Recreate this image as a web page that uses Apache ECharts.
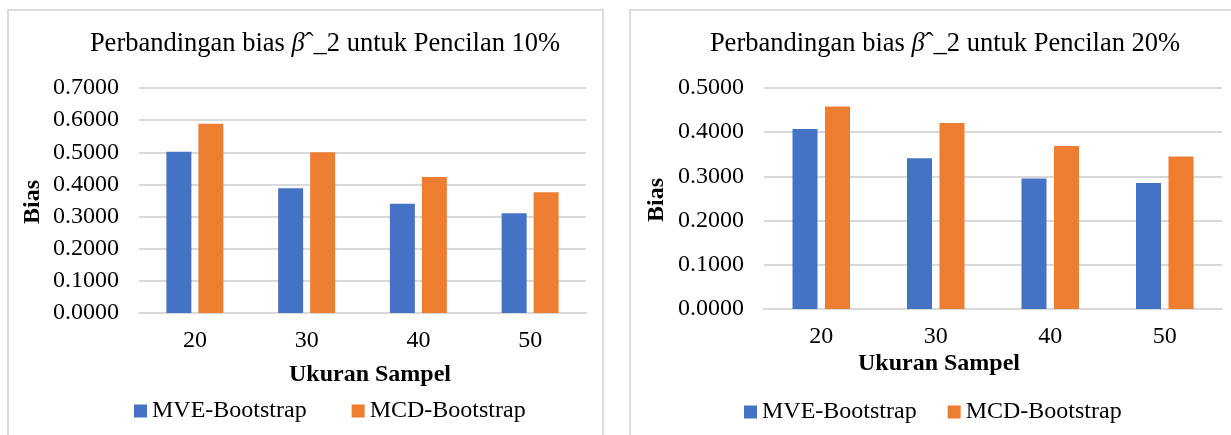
<!DOCTYPE html>
<html>
<head>
<meta charset="utf-8">
<style>
  html, body { margin: 0; padding: 0; background: #fff; }
  #chart { width: 1231px; height: 435px; }
</style>
<script src="https://cdn.jsdelivr.net/npm/echarts@6/dist/echarts.min.js"></script>
</head>
<body>
<div id="chart"></div>
<script>
// Sample sizes on the category axis
const categories = ['20', '30', '40', '50'];

// Bias of beta-hat_2, 10% outliers
const mve10 = [0.502, 0.388, 0.340, 0.310];
const mcd10 = [0.589, 0.500, 0.423, 0.376];

// Bias of beta-hat_2, 20% outliers
const mve20 = [0.407, 0.341, 0.295, 0.285];
const mcd20 = [0.458, 0.421, 0.369, 0.345];

const seriesNames = ['MVE-Bootstrap', 'MCD-Bootstrap'];
const titles = ['Pencilan 10%', 'Pencilan 20%'];
const yMax = [0.7, 0.5];

const FONT = '"Liberation Serif", "Times New Roman", serif';
const BLUE = '#4472C4';
const ORANGE = '#ED7D31';
const GRID_LINE = '#d9d9d9';

const chart = echarts.init(document.getElementById('chart'), null, { renderer: 'canvas' });

function titleOf(i, cx) {
  return {
    text: '{n|Perbandingan bias }{b|β}{n|ˆ_2 untuk ' + titles[i] + '}',
    left: cx,
    top: 26,
    textAlign: 'center',
    textStyle: {
      fontWeight: 'normal',
      rich: {
        n: { fontFamily: FONT, fontSize: 26.5, fontWeight: 'normal', color: '#000' },
        b: { fontFamily: FONT, fontSize: 26.5, fontWeight: 'normal', fontStyle: 'italic', color: '#000' }
      }
    }
  };
}

function yAxisOf(i, gridIndex) {
  return {
    type: 'value',
    gridIndex: gridIndex,
    min: 0,
    max: yMax[i],
    interval: 0.1,
    axisLine: { show: false },
    axisTick: { show: false },
    splitLine: { lineStyle: { color: GRID_LINE, width: 2 } },
    axisLabel: {
      margin: 20,
      fontFamily: FONT,
      fontSize: 24,
      color: '#000',
      formatter: v => v.toFixed(4)
    }
  };
}

function xAxisOf(gridIndex) {
  return {
    type: 'category',
    gridIndex: gridIndex,
    data: categories,
    axisLine: { lineStyle: { color: GRID_LINE, width: 2 } },
    axisTick: { show: false },
    axisLabel: { margin: 16, fontFamily: FONT, fontSize: 24, color: '#000' }
  };
}

function barSeries(name, data, color, idx, gap) {
  return {
    type: 'bar',
    name: name,
    data: data,
    xAxisIndex: idx,
    yAxisIndex: idx,
    barWidth: 25,
    barGap: gap,
    itemStyle: { color: color },
    emphasis: { disabled: true }
  };
}

function legendOf(left, top, gap) {
  return {
    data: seriesNames,
    left: left,
    top: top,
    icon: 'rect',
    itemWidth: 13,
    itemHeight: 13,
    itemGap: gap,
    textStyle: { fontFamily: FONT, fontSize: 24, color: '#000' }
  };
}

function textEl(text, x, y, opts) {
  return Object.assign({
    type: 'text',
    x: x,
    y: y,
    style: {
      text: text,
      fontFamily: FONT,
      fontSize: 24,
      fontWeight: 'bold',
      fill: '#000',
      align: 'center',
      verticalAlign: 'middle'
    }
  }, opts || {});
}

chart.setOption({
  animation: false,
  backgroundColor: '#fff',
  title: [titleOf(0, 320), titleOf(1, 940)],
  grid: [
    { left: 139, right: 645, top: 88, bottom: 122 },
    { left: 764, right: 9, top: 88, bottom: 126 }
  ],
  xAxis: [xAxisOf(0), xAxisOf(1)],
  yAxis: [yAxisOf(0, 0), yAxisOf(1, 1)],
  legend: [legendOf(129, 394, 45), legendOf(739, 395, 31)],
  series: [
    barSeries(seriesNames[0], mve10, BLUE, 0, '28%'),
    barSeries(seriesNames[1], mcd10, ORANGE, 0, '28%'),
    barSeries(seriesNames[0], mve20, BLUE, 1, '30%'),
    barSeries(seriesNames[1], mcd20, ORANGE, 1, '30%')
  ],
  graphic: [
    // panel frames
    { type: 'rect', shape: { x: 8, y: 10, width: 595, height: 440 },
      style: { fill: 'none', stroke: '#dcdcdc', lineWidth: 2 }, z: -1 },
    { type: 'rect', shape: { x: 630, y: 10, width: 620, height: 440 },
      style: { fill: 'none', stroke: '#dcdcdc', lineWidth: 2 }, z: -1 },
    // axis titles
    textEl('Ukuran Sampel', 370, 375),
    textEl('Ukuran Sampel', 939, 364),
    textEl('Bias', 33, 202, { rotation: Math.PI / 2 }),
    textEl('Bias', 657, 200, { rotation: Math.PI / 2 })
  ]
});
</script>
</body>
</html>
